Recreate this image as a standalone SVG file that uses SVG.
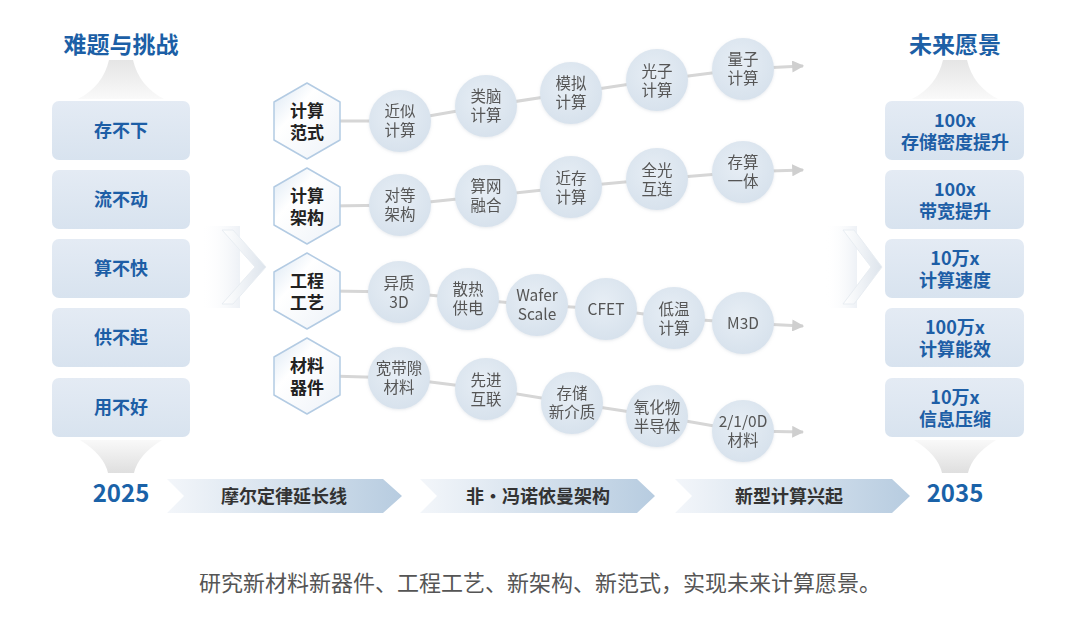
<svg xmlns="http://www.w3.org/2000/svg" width="1080" height="624" viewBox="0 0 1080 624">
<defs>
<linearGradient id="boxG" x1="0" y1="0" x2="0" y2="1"><stop offset="0" stop-color="#e4ebf4"/><stop offset="1" stop-color="#d8e3ef"/></linearGradient>
<radialGradient id="cirG" cx="0.45" cy="0.4" r="0.65"><stop offset="0" stop-color="#e7eef5"/><stop offset="1" stop-color="#d6e1ec"/></radialGradient>
<linearGradient id="hexG" x1="0" y1="0" x2="1" y2="1"><stop offset="0" stop-color="#d9e6f3"/><stop offset="0.35" stop-color="#ffffff"/><stop offset="1" stop-color="#edf2f8"/></linearGradient>
<linearGradient id="bandG" x1="0" y1="0" x2="1" y2="0"><stop offset="0" stop-color="#f3f6fa"/><stop offset="1" stop-color="#b7cce0"/></linearGradient>
<linearGradient id="funTop" x1="0" y1="0" x2="0" y2="1"><stop offset="0" stop-color="#dadada"/><stop offset="1" stop-color="#f7f7f7"/></linearGradient>
<linearGradient id="funBot" x1="0" y1="0" x2="0" y2="1"><stop offset="0" stop-color="#f7f7f7"/><stop offset="1" stop-color="#d4d4d4"/></linearGradient>
<linearGradient id="chevG" x1="0" y1="0" x2="1" y2="0"><stop offset="0" stop-color="#ffffff"/><stop offset="1" stop-color="#dde4ec"/></linearGradient>
<linearGradient id="glowG" x1="0" y1="0" x2="1" y2="0"><stop offset="0" stop-color="#ffffff" stop-opacity="0"/><stop offset="1" stop-color="#e6ebf2" stop-opacity="0.7"/></linearGradient>
<marker id="arr" viewBox="0 0 10 10" refX="9" refY="5" markerWidth="4" markerHeight="4" orient="auto" markerUnits="strokeWidth"><path d="M0,0 L10,5 L0,10 Z" fill="#cfcfcf"/></marker>
<filter id="sh" x="-20%" y="-20%" width="140%" height="140%"><feDropShadow dx="0" dy="1" stdDeviation="1.5" flood-color="#9aa8b8" flood-opacity="0.25"/></filter>
</defs>
<style>
text{font-family:"Noto Sans CJK SC","Noto Sans",sans-serif;text-anchor:middle}
.title{font-size:23px;font-weight:bold;fill:#1c5fa6}
.box{fill:url(#boxG)}
.bt{font-size:18px;font-weight:bold;fill:#1d5ea6}
.hex{fill:url(#hexG);stroke:#b3cbe3;stroke-width:1.5;stroke-linejoin:round}
.ht{font-size:17px;font-weight:bold;fill:#222}
.cir{fill:url(#cirG)}
.ct{font-size:15.5px;fill:#555}
.con{fill:none;stroke:#d6d6d6;stroke-width:3;stroke-linejoin:round}
.band{fill:url(#bandG)}
.bnt{font-size:18px;font-weight:bold;fill:#333}
.yr{font-size:24px;font-weight:bold;fill:#1a62a8}
.cap{font-size:22px;fill:#555;text-anchor:start}
</style>
<rect width="1080" height="624" fill="#ffffff"/>

<g id="decor">
<path d="M109,60 L133,60 Q139,86 164,99 L78,99 Q103,86 109,60 Z" fill="url(#funTop)" opacity="0.7"/>
<path d="M943,60 L967,60 Q973,86 998,99 L912,99 Q937,86 943,60 Z" fill="url(#funTop)" opacity="0.7"/>
<path d="M80,440 L162,440 Q138,455 134,473 L108,473 Q104,455 80,440 Z" fill="url(#funBot)" opacity="0.75"/>
<path d="M914,440 L996,440 Q972,455 968,473 L942,473 Q938,455 914,440 Z" fill="url(#funBot)" opacity="0.75"/>
<rect x="200" y="226" width="40" height="82" fill="url(#glowG)"/>
<polygon points="222,230 233,230 266,267 233,304 222,304 255,267" fill="url(#chevG)" stroke="#e8edf2" stroke-width="1"/>
<rect x="825" y="226" width="32" height="82" fill="url(#glowG)"/>
<polygon points="843,230 854,230 882,267 854,304 843,304 871,267" fill="url(#chevG)" stroke="#e8edf2" stroke-width="1"/>
</g>

<text class="title" x="121" y="53">难题与挑战</text>
<text class="title" x="955" y="53">未来愿景</text>

<g id="challenge-1"><rect class="box" x="52" y="101" width="138" height="59" rx="7"/><text class="bt" x="121" y="137">存不下</text></g>
<g id="challenge-2"><rect class="box" x="52" y="170" width="138" height="59" rx="7"/><text class="bt" x="121" y="206">流不动</text></g>
<g id="challenge-3"><rect class="box" x="52" y="239" width="138" height="59" rx="7"/><text class="bt" x="121" y="275">算不快</text></g>
<g id="challenge-4"><rect class="box" x="52" y="308" width="138" height="59" rx="7"/><text class="bt" x="121" y="344">供不起</text></g>
<g id="challenge-5"><rect class="box" x="52" y="378" width="138" height="59" rx="7"/><text class="bt" x="121" y="414">用不好</text></g>

<g id="vision-1"><rect class="box" x="885" y="101" width="139" height="59" rx="7"/><text class="bt" x="955" y="127">100x<tspan x="955" dy="22">存储密度提升</tspan></text></g>
<g id="vision-2"><rect class="box" x="885" y="170" width="139" height="59" rx="7"/><text class="bt" x="955" y="196">100x<tspan x="955" dy="22">带宽提升</tspan></text></g>
<g id="vision-3"><rect class="box" x="885" y="239" width="139" height="59" rx="7"/><text class="bt" x="955" y="265">10万x<tspan x="955" dy="22">计算速度</tspan></text></g>
<g id="vision-4"><rect class="box" x="885" y="308" width="139" height="59" rx="7"/><text class="bt" x="955" y="334">100万x<tspan x="955" dy="22">计算能效</tspan></text></g>
<g id="vision-5"><rect class="box" x="885" y="378" width="139" height="59" rx="7"/><text class="bt" x="955" y="404">10万x<tspan x="955" dy="22">信息压缩</tspan></text></g>

<g id="connectors">
<polyline class="con" marker-end="url(#arr)" points="330,121 400,121 486,106 571,93 657,80 743,69 803,66"/>
<polyline class="con" marker-end="url(#arr)" points="330,206 400,205 486,196 571,187 657,179 743,172 803,170"/>
<polyline class="con" marker-end="url(#arr)" points="330,291 399,292 468,299 537,305 606,309 674,318 743,323 803,326"/>
<polyline class="con" marker-end="url(#arr)" points="330,376 399,378 486,389 572,403 657,416 743,431 803,432"/>
</g>

<g id="hex-1"><polygon class="hex" points="307,83 340,102 340,140 307,159 274,140 274,102"/><text class="ht" x="307" y="117">计算<tspan x="307" dy="22">范式</tspan></text></g>
<g id="hex-2"><polygon class="hex" points="307,168 340,187 340,225 307,244 274,225 274,187"/><text class="ht" x="307" y="202">计算<tspan x="307" dy="22">架构</tspan></text></g>
<g id="hex-3"><polygon class="hex" points="307,253 340,272 340,310 307,329 274,310 274,272"/><text class="ht" x="307" y="287">工程<tspan x="307" dy="22">工艺</tspan></text></g>
<g id="hex-4"><polygon class="hex" points="307,338 340,357 340,395 307,414 274,395 274,357"/><text class="ht" x="307" y="372">材料<tspan x="307" dy="22">器件</tspan></text></g>

<g id="c-1-1" filter="url(#sh)"><circle class="cir" cx="400" cy="121" r="31"/><text class="ct" x="400" y="117">近似<tspan x="400" dy="19">计算</tspan></text></g>
<g id="c-1-2" filter="url(#sh)"><circle class="cir" cx="486" cy="106" r="31"/><text class="ct" x="486" y="102">类脑<tspan x="486" dy="19">计算</tspan></text></g>
<g id="c-1-3" filter="url(#sh)"><circle class="cir" cx="571" cy="93" r="31"/><text class="ct" x="571" y="89">模拟<tspan x="571" dy="19">计算</tspan></text></g>
<g id="c-1-4" filter="url(#sh)"><circle class="cir" cx="657" cy="80" r="31"/><text class="ct" x="657" y="77">光子<tspan x="657" dy="19">计算</tspan></text></g>
<g id="c-1-5" filter="url(#sh)"><circle class="cir" cx="743" cy="69" r="31"/><text class="ct" x="743" y="65">量子<tspan x="743" dy="19">计算</tspan></text></g>

<g id="c-2-1" filter="url(#sh)"><circle class="cir" cx="400" cy="205" r="31"/><text class="ct" x="400" y="201">对等<tspan x="400" dy="19">架构</tspan></text></g>
<g id="c-2-2" filter="url(#sh)"><circle class="cir" cx="486" cy="196" r="31"/><text class="ct" x="486" y="192">算网<tspan x="486" dy="19">融合</tspan></text></g>
<g id="c-2-3" filter="url(#sh)"><circle class="cir" cx="571" cy="187" r="31"/><text class="ct" x="571" y="184">近存<tspan x="571" dy="19">计算</tspan></text></g>
<g id="c-2-4" filter="url(#sh)"><circle class="cir" cx="657" cy="179" r="31"/><text class="ct" x="657" y="176">全光<tspan x="657" dy="19">互连</tspan></text></g>
<g id="c-2-5" filter="url(#sh)"><circle class="cir" cx="743" cy="172" r="31"/><text class="ct" x="743" y="168">存算<tspan x="743" dy="19">一体</tspan></text></g>

<g id="c-3-1" filter="url(#sh)"><circle class="cir" cx="399" cy="292" r="31"/><text class="ct" x="399" y="289">异质<tspan x="399" dy="19">3D</tspan></text></g>
<g id="c-3-2" filter="url(#sh)"><circle class="cir" cx="468" cy="299" r="31"/><text class="ct" x="468" y="295">散热<tspan x="468" dy="19">供电</tspan></text></g>
<g id="c-3-3" filter="url(#sh)"><circle class="cir" cx="537" cy="305" r="31"/><text class="ct" x="537" y="301">Wafer<tspan x="537" dy="19">Scale</tspan></text></g>
<g id="c-3-4" filter="url(#sh)"><circle class="cir" cx="606" cy="309" r="31"/><text class="ct" x="606" y="315">CFET</text></g>
<g id="c-3-5" filter="url(#sh)"><circle class="cir" cx="674" cy="318" r="31"/><text class="ct" x="674" y="315">低温<tspan x="674" dy="19">计算</tspan></text></g>
<g id="c-3-6" filter="url(#sh)"><circle class="cir" cx="743" cy="323" r="31"/><text class="ct" x="743" y="329">M3D</text></g>

<g id="c-4-1" filter="url(#sh)"><circle class="cir" cx="399" cy="378" r="31"/><text class="ct" x="399" y="374">宽带隙<tspan x="399" dy="19">材料</tspan></text></g>
<g id="c-4-2" filter="url(#sh)"><circle class="cir" cx="486" cy="389" r="31"/><text class="ct" x="486" y="386">先进<tspan x="486" dy="19">互联</tspan></text></g>
<g id="c-4-3" filter="url(#sh)"><circle class="cir" cx="572" cy="403" r="31"/><text class="ct" x="572" y="399">存储<tspan x="572" dy="19">新介质</tspan></text></g>
<g id="c-4-4" filter="url(#sh)"><circle class="cir" cx="657" cy="416" r="31"/><text class="ct" x="657" y="413">氧化物<tspan x="657" dy="19">半导体</tspan></text></g>
<g id="c-4-5" filter="url(#sh)"><circle class="cir" cx="743" cy="431" r="31"/><text class="ct" x="743" y="427">2/1/0D<tspan x="743" dy="19">材料</tspan></text></g>

<text class="yr" x="121" y="502">2025</text>
<text class="yr" x="955" y="502">2035</text>
<g id="band-1"><polygon class="band" points="167,479 383,479 402,496 383,513 167,513 184,496"/><text class="bnt" x="284" y="503">摩尔定律延长线</text></g>
<g id="band-2"><polygon class="band" points="420,479 637,479 655,496 637,513 420,513 437,496"/><text class="bnt" x="538" y="503">非·冯诺依曼架构</text></g>
<g id="band-3"><polygon class="band" points="675,479 892,479 910,496 892,513 675,513 692,496"/><text class="bnt" x="789" y="503">新型计算兴起</text></g>

<text class="cap" x="199" y="591">研究新材料新器件、工程工艺、新架构、新范式，实现未来计算愿景。</text>
</svg>
